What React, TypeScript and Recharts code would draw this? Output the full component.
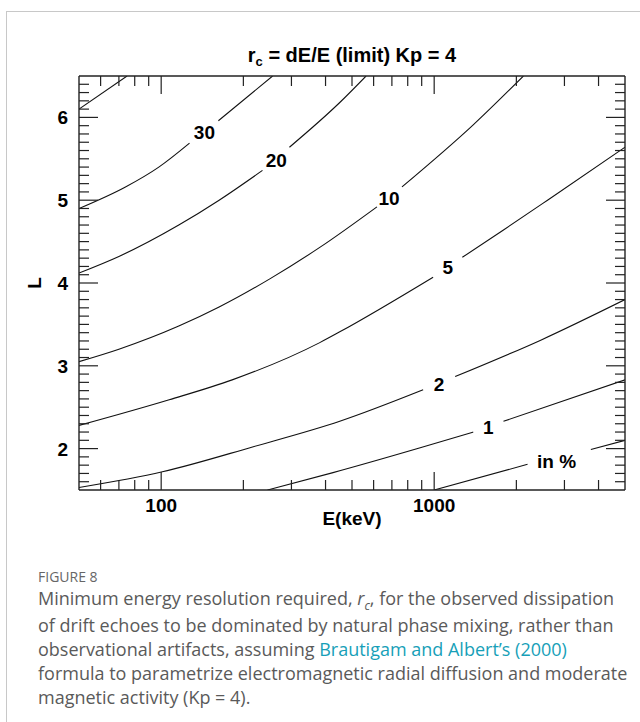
import { ComposedChart, Line, Scatter, XAxis, YAxis } from "recharts";

// axis ticks
const E_TICKS = [60, 70, 80, 90, 100, 200, 300, 400, 500, 600, 700, 800, 900, 1000, 2000, 3000, 4000];
const E_LABELS = [100, 1000];
const L_TICKS = [
  1.6, 1.7, 1.8, 1.9, 2.0, 2.1, 2.2, 2.3, 2.4, 2.5, 2.6, 2.7, 2.8, 2.9, 3.0, 3.1, 3.2, 3.3, 3.4, 3.5,
  3.6, 3.7, 3.8, 3.9, 4.0, 4.1, 4.2, 4.3, 4.4, 4.5, 4.6, 4.7, 4.8, 4.9, 5.0, 5.1, 5.2, 5.3, 5.4, 5.5,
  5.6, 5.7, 5.8, 5.9, 6.0, 6.1, 6.2, 6.3, 6.4,
];
const L_LABELS = [2, 3, 4, 5, 6];

// contour lines, [E (keV), L]; null = gap for the label
const r50 = [[50, 6.1], [75, 6.5]];
const r30 = [[50, 4.9], [74, 5.16], [98, 5.4], [127, 5.69], [144, null], [162, 5.96], [256, 6.5]];
const r20 = [[50, 4.12], [70, 4.32], [116, 4.7], [163, 5.0], [235, 5.36], [264, null], [295, 5.64], [451, 6.18], [563, 6.5]];
const r10 = [[50, 3.05], [70, 3.2], [116, 3.48], [163, 3.71], [250, 4.05], [381, 4.43], [617, 4.92], [683, null], [762, 5.16], [1390, 5.91], [2123, 6.5]];
const r5 = [[50, 2.28], [107, 2.59], [182, 2.83], [381, 3.28], [451, 3.41], [991, 4.07], [1121, null], [1268, 4.31], [1794, 4.64], [2601, 5.0], [5000, 5.64]];
const r2 = [[50, 1.53], [101, 1.72], [216, 2.02], [451, 2.33], [911, 2.71], [1042, null], [1194, 2.87], [2456, 3.31], [5000, 3.8]];
const r1 = [[245, 1.5], [426, 1.71], [889, 2.01], [1390, 2.2], [1579, null], [1794, 2.33], [5000, 2.83]];
const rLow = [[1000, 1.5], [2198, 1.81], [2809, null], [3749, 1.99], [5000, 2.1]];

const CONTOURS = [r50, r30, r20, r10, r5, r2, r1, rLow];

const LABELS = [
  { E: 144, L: 5.825, text: "30" },
  { E: 264, L: 5.48, text: "20" },
  { E: 683, L: 5.03, text: "10" },
  { E: 1121, L: 4.19, text: "5" },
  { E: 1042, L: 2.78, text: "2" },
  { E: 1579, L: 2.265, text: "1" },
  { E: 2809, L: 1.855, text: "in %" },
];

const INK = "#222";
const FONT = "'Liberation Sans', Arial, sans-serif";

const toPoints = (arr: (number | null)[][]) => arr.map(([E, L]) => ({ E, L }));

const BottomTick = (props: any) => {
  const { x, y, payload } = props;
  const major = E_LABELS.includes(payload.value);
  return (
    <g>
      <line x1={x} x2={x} y1={y} y2={y - (major ? 18 : 10)} stroke={INK} strokeWidth={1.2} />
      {major && (
        <text x={x} y={y + 22} textAnchor="middle" fontSize={19} fontWeight="bold" fill="#000">
          {payload.value}
        </text>
      )}
    </g>
  );
};

const TopTick = (props: any) => {
  const { x, y, payload } = props;
  const major = E_LABELS.includes(payload.value);
  return <line x1={x} x2={x} y1={y} y2={y + (major ? 18 : 10)} stroke={INK} strokeWidth={1.2} />;
};

const isMajorL = (v: number) => L_LABELS.includes(Math.round(v * 10) / 10);

const LeftTick = (props: any) => {
  const { x, y, payload } = props;
  const major = isMajorL(payload.value);
  return (
    <g>
      <line x1={x} x2={x + (major ? 19 : 10)} y1={y} y2={y} stroke={INK} strokeWidth={1.2} />
      {major && (
        <text x={x - 11} y={y + 7} textAnchor="end" fontSize={19} fontWeight="bold" fill="#000">
          {Math.round(payload.value)}
        </text>
      )}
    </g>
  );
};

const RightTick = (props: any) => {
  const { x, y, payload } = props;
  const major = isMajorL(payload.value);
  return <line x1={x} x2={x - (major ? 19 : 10)} y1={y} y2={y} stroke={INK} strokeWidth={1.2} />;
};

const LLabel = (props: any) => {
  const { viewBox } = props;
  const cx = viewBox.x - 44;
  const cy = viewBox.y + viewBox.height / 2;
  return (
    <text x={cx} y={cy + 7} transform={`rotate(-90 ${cx} ${cy})`} textAnchor="middle" fontSize={19} fontWeight="bold" fill="#000">
      L
    </text>
  );
};

const ContourLabel = (p: any) => (
  <text x={p.cx} y={p.cy + 7} textAnchor="middle" fontSize={19} fontWeight="bold" fill="#000">
    {p.payload.text}
  </text>
);

export default function App() {
  const axisLine = { stroke: INK, strokeWidth: 1.4 };
  return (
    <div style={{ position: "absolute", left: 0, top: 0, width: 640, height: 722, overflow: "hidden", background: "#fff" }}>
      <div
        style={{
          position: "absolute",
          left: 6,
          top: 11,
          width: 700,
          height: 800,
          borderTop: "1px solid #c8c8c8",
          borderLeft: "1px solid #c8c8c8",
        }}
      />
      <div
        style={{
          position: "absolute",
          left: 152,
          top: 45,
          width: 400,
          textAlign: "center",
          fontFamily: FONT,
          fontWeight: "bold",
          fontSize: 20,
          lineHeight: "20px",
          whiteSpace: "nowrap",
        }}
      >
        r<span style={{ fontSize: 13, position: "relative", top: 4 }}>c</span> = dE/E (limit) Kp = 4
      </div>
      <div style={{ position: "absolute", left: 0, top: 0 }}>
        <ComposedChart
          width={640}
          height={540}
          margin={{ top: 75, right: 14, bottom: 49, left: 78 }}
          style={{ fontFamily: FONT }}
        >
          <XAxis
            dataKey="E"
            type="number"
            scale="log"
            domain={[50, 5000]}
            allowDataOverflow
            ticks={E_TICKS}
            interval={0}
            height={1}
            tickSize={0}
            tickMargin={0}
            tickLine={false}
            axisLine={axisLine}
            tick={<BottomTick />}
            label={{ value: "E(keV)", position: "bottom", offset: 21, fontSize: 19, fontWeight: "bold", fill: "#000" }}
          />
          <XAxis
            xAxisId="top"
            orientation="top"
            dataKey="E"
            type="number"
            scale="log"
            domain={[50, 5000]}
            allowDataOverflow
            ticks={E_TICKS}
            interval={0}
            height={1}
            tickSize={0}
            tickMargin={0}
            tickLine={false}
            axisLine={axisLine}
            tick={<TopTick />}
          />
          <YAxis
            dataKey="L"
            type="number"
            domain={[1.5, 6.5]}
            allowDataOverflow
            ticks={L_TICKS}
            interval={0}
            width={1}
            tickSize={0}
            tickMargin={0}
            tickLine={false}
            axisLine={axisLine}
            tick={<LeftTick />}
            label={<LLabel />}
          />
          <YAxis
            yAxisId="right"
            orientation="right"
            dataKey="L"
            type="number"
            domain={[1.5, 6.5]}
            allowDataOverflow
            ticks={L_TICKS}
            interval={0}
            width={1}
            tickSize={0}
            tickMargin={0}
            tickLine={false}
            axisLine={axisLine}
            tick={<RightTick />}
          />
          {CONTOURS.map((c, i) => (
            <Line
              key={i}
              data={toPoints(c)}
              dataKey="L"
              type="monotone"
              stroke="#111"
              strokeWidth={1.1}
              dot={false}
              activeDot={false}
              connectNulls={false}
              isAnimationActive={false}
            />
          ))}
          <Scatter data={LABELS} dataKey="L" shape={ContourLabel} isAnimationActive={false} />
        </ComposedChart>
      </div>
      <div
        style={{
          position: "absolute",
          left: 38,
          top: 568,
          fontFamily: "'Open Sans', sans-serif",
          color: "#5a5a5a",
          whiteSpace: "nowrap",
        }}
      >
        <div style={{ fontSize: 14, lineHeight: "18px", color: "#666" }}>FIGURE 8</div>
        <div style={{ fontSize: 18, lineHeight: "24px" }}>
          <div>
            Minimum energy resolution required, <i>r</i>
            <span style={{ fontSize: 12, position: "relative", top: 5 }}>
              <i>c</i>
            </span>
            , for the observed dissipation
          </div>
          <div>of drift echoes to be dominated by natural phase mixing, rather than</div>
          <div>
            observational artifacts, assuming <span style={{ color: "#179fb8" }}>Brautigam and Albert’s (2000)</span>
          </div>
          <div>formula to parametrize electromagnetic radial diffusion and moderate</div>
          <div>magnetic activity (Kp = 4).</div>
        </div>
      </div>
    </div>
  );
}
